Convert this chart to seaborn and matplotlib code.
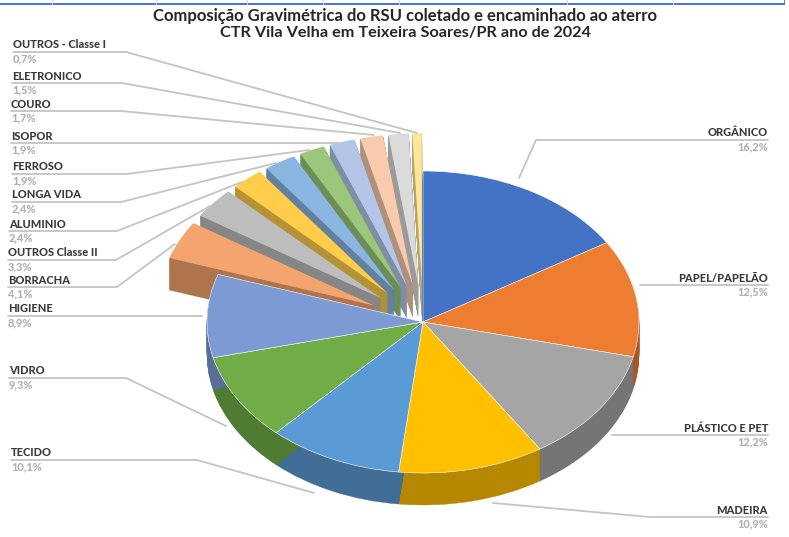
import matplotlib
matplotlib.use('Agg')
import matplotlib.pyplot as plt
from matplotlib.patches import Wedge
import numpy as np
import seaborn as sns

categories = ['ORGÂNICO', 'PAPEL/PAPELÃO', 'PLÁSTICO E PET', 'MADEIRA', 'TECIDO', 'VIDRO', 'HIGIENE',
              'BORRACHA', 'OUTROS Classe II', 'ALUMINIO', 'LONGA VIDA', 'FERROSO', 'ISOPOR', 'COURO',
              'ELETRONICO', 'OUTROS - Classe I']
values = [16.2, 12.5, 12.2, 10.9, 10.1, 9.3, 8.9, 4.1, 3.3, 2.4, 2.4, 1.9, 1.9, 1.7, 1.5, 0.7]
value_labels = ['16,2%', '12,5%', '12,2%', '10,9%', '10,1%', '9,3%', '8,9%', '4,1%', '3,3%', '2,4%',
                '2,4%', '1,9%', '1,9%', '1,7%', '1,5%', '0,7%']
colors = ['#4472C4', '#ED7D31', '#A5A5A5', '#FFC000', '#5B9BD5', '#70AD47', '#7C9BD5',
          '#F4A46E', '#BDBDBD', '#FFCD4A', '#8AB6E1', '#9AC77B', '#B4C6E7', '#F8CBAD', '#DBDBDB', '#FFE699']
explode = [0, 0, 0, 0, 0, 0, 0, 0.25, 0.25, 0.25, 0.25, 0.25, 0.25, 0.25, 0.25, 0.25]

# label placement in pixels: text x, y of the leader's flat part, rest of the leader
leaders = {
    'ORGÂNICO': (768, 140, [(536, 140), (519, 178)]),
    'PAPEL/PAPELÃO': (768, 285, [(640, 285)]),
    'PLÁSTICO E PET': (768, 435, [(612, 435)]),
    'MADEIRA': (768, 517, [(650, 517), (493, 503)]),
    'TECIDO': (11, 460, [(197, 460), (314, 493)]),
    'VIDRO': (9, 378, [(126, 378), (226, 426)]),
    'HIGIENE': (8, 316, [(202, 316)]),
    'BORRACHA': (8, 287, [(117, 287), (175, 244)]),
    'OUTROS Classe II': (8, 260, [(116, 260), (210, 206)]),
    'ALUMINIO': (9, 231, [(117, 231), (242, 182)]),
    'LONGA VIDA': (12, 202, [(121, 202), (276, 163)]),
    'FERROSO': (12, 174, [(127, 174), (309, 150)]),
    'ISOPOR': (11, 143, [(339, 143)]),
    'COURO': (11, 111, [(121, 111), (374, 135)]),
    'ELETRONICO': (12, 83, [(122, 83), (400, 133)]),
    'OUTROS - Classe I': (13, 52, [(126, 52), (417, 133)]),
}
right_side = ['ORGÂNICO', 'PAPEL/PAPELÃO', 'PLÁSTICO E PET', 'MADEIRA']

sns.set_theme(style='white')
plt.rcParams['font.family'] = ['Lato', 'DejaVu Sans']

W, H = 789, 537
cx, cy, rx, ry, depth = 423, 322, 216, 151, 32

fig = plt.figure(figsize=(W / 100, H / 100), dpi=100)
ax = fig.add_axes([0, 0, 1, 1])

# pie gives the wedge geometry, then the axes squash it into an ellipse
wedges, _ = ax.pie(values, explode=explode, colors=colors, startangle=90, counterclock=False,
                   frame=False, wedgeprops={'edgecolor': 'white', 'linewidth': 0.4})
ax.set_aspect('auto')
ax.set_xlim(-cx / rx, (W - cx) / rx)
ax.set_ylim((cy - H) / ry, cy / ry)


def add_wall(w, z):
    wall = tuple(c * 0.71 for c in w.get_facecolor()[:3])
    for d in np.arange(depth, 0, -1):
        ax.add_patch(Wedge((w.center[0], w.center[1] - d / ry), w.r, w.theta1, w.theta2,
                           facecolor=wall, edgecolor=wall, linewidth=0.3, zorder=z))


# exploded slices from the top one round to the left, each covers the wall of the one before
small = wedges[7:]
for i, w in enumerate(small[::-1]):
    add_wall(w, 2 + i * 0.1)
    w.set_zorder(2.05 + i * 0.1)
    w.set_linewidth(0)
for w in wedges[:7]:
    add_wall(w, 5)
    w.set_zorder(6)

# overlay in pixel coordinates for title, labels and leaders
over = fig.add_axes([0, 0, 1, 1])
over.set_xlim(0, W)
over.set_ylim(H, 0)
over.axis('off')
over.patch.set_alpha(0)

over.text(405.5, 16.5, 'Composição Gravimétrica do RSU coletado e encaminhado ao aterro', ha='center', va='center',
          fontsize=12.0, fontweight='bold', color='#262626')
over.text(405.5, 33.5, 'CTR Vila Velha em Teixeira Soares/PR ano de 2024', ha='center', va='center',
          fontsize=11.7, fontweight='bold', color='#262626')

for name, val in zip(categories, value_labels):
    x, y, rest = leaders[name]
    pts = [(x, y)] + rest
    over.plot([p[0] for p in pts], [p[1] for p in pts], color='#C4C4C4', lw=1.3, solid_joinstyle='miter')
    ha = 'right' if name in right_side else 'left'
    over.text(x, y - 7, name, ha=ha, va='center', fontsize=7.9, fontweight='black', color='#3A3A3A')
    over.text(x, y + 7, val, ha=ha, va='center', fontsize=7.9, fontweight='black', color='#B0B0B0')

# spreadsheet edge above the chart
over.plot([0, 784], [4, 4], color='#1F5FD0', lw=1.2)
for gx in [52, 156, 247, 323, 399, 567, 673]:
    over.plot([gx, gx], [0, 4], color='#D4D4D4', lw=0.8)
over.plot([784, 784], [0, 4], color='#777777', lw=0.8)

fig.savefig('out.png', dpi=100)
